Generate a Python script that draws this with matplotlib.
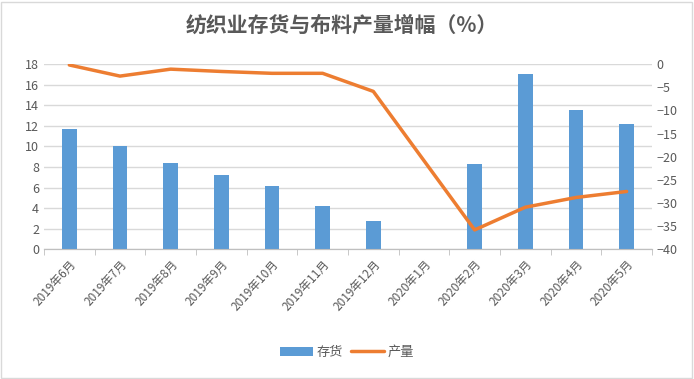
import numpy as np
import matplotlib.pyplot as plt
from matplotlib.transforms import ScaledTranslation

plt.rcParams['font.family'] = ['Noto Sans CJK SC', 'DejaVu Sans']

months = ['2019年6月', '2019年7月', '2019年8月', '2019年9月', '2019年10月', '2019年11月',
          '2019年12月', '2020年1月', '2020年2月', '2020年3月', '2020年4月', '2020年5月']
inventory = [11.7, 10.0, 8.4, 7.2, 6.2, 4.2, 2.8, np.nan, 8.3, 17.0, 13.5, 12.2]
output = [-0.2, -2.6, -1.1, -1.6, -2.0, -2.0, -5.9, np.nan, -35.8, -30.9, -28.8, -27.5]

grey = '#595959'
fig = plt.figure(figsize=(6.94, 3.79), dpi=100)
ax = fig.add_axes([0.0634, 0.342, 0.876, 0.489])
ax2 = ax.twinx()

x = np.arange(len(months))
ax.bar(x, inventory, width=0.29, color='#5b9bd5', label='存货', zorder=3)

# the line skips the missing month and joins Dec to Feb
ok = ~np.isnan(output)
ax2.plot(x[ok], np.array(output)[ok], color='#ed7d31', lw=2.5, label='产量',
         solid_capstyle='round', zorder=4)

ax.set_xlim(-0.5, len(months) - 0.5)
ax.set_ylim(0, 18)
ax.set_yticks(range(0, 19, 2))
ax2.set_ylim(-40, 0)
ax2.set_yticks(range(-40, 1, 5))
ax.grid(axis='y', color='#d9d9d9', lw=1, zorder=0)

ax.set_xticks(x)
ax.set_xticklabels(months, rotation=48, ha='right', rotation_mode='anchor')
offset = ScaledTranslation(-12 / 72, -7 / 72, fig.dpi_scale_trans)
for lab in ax.get_xticklabels():
    lab.set_transform(lab.get_transform() + offset)
ax.set_xticks(np.arange(-0.5, len(months)), minor=True)
ax.tick_params(axis='x', which='major', length=0, colors=grey, labelsize=8.5, pad=6)
ax.tick_params(axis='x', which='minor', length=4, color='#bfbfbf')
ax.tick_params(axis='y', length=0, colors=grey, labelsize=9)
ax2.tick_params(axis='y', length=0, colors=grey, labelsize=9)

for a in (ax, ax2):
    for s in ('top', 'left', 'right'):
        a.spines[s].set_visible(False)
    a.spines['bottom'].set_color('#bfbfbf')

fig.text(0.492, 0.934, '纺织业存货与布料产量增幅（%）', ha='center', va='center',
         fontsize=15, fontweight='bold', color=grey)

h1, l1 = ax.get_legend_handles_labels()
h2, l2 = ax2.get_legend_handles_labels()
fig.legend(h1 + h2, l1 + l2, loc='center', bbox_to_anchor=(0.5, 0.07), ncol=2,
           frameon=False, fontsize=9.5, labelcolor=grey, handlelength=2.5,
           columnspacing=0.6, handletextpad=0.3)

fig.patches.append(plt.Rectangle((0.002, 0.003), 0.995, 0.993, transform=fig.transFigure,
                                 fill=False, edgecolor='#d9d9d9', lw=1))

plt.savefig('out.png', dpi=100)
